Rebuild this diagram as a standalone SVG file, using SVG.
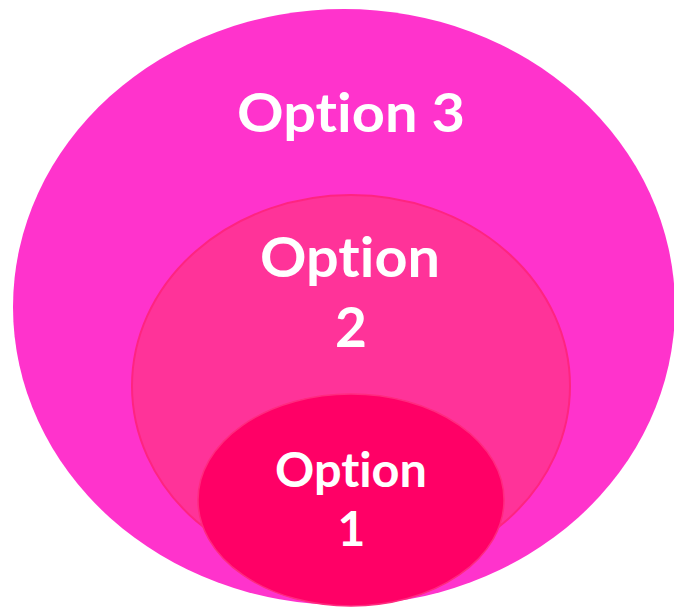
<svg xmlns="http://www.w3.org/2000/svg" width="674" height="607" viewBox="0 0 674 607">
<style>
.lbl{font-family:Lato,"Open Sans","Liberation Sans",sans-serif;font-weight:bold;fill:#FFFFFF;text-anchor:middle;font-variant-ligatures:none;font-feature-settings:"liga" 0,"clig" 0}
</style>
<rect width="674" height="607" fill="#FFFFFF"/>
<g id="option3">
<ellipse cx="344" cy="307" rx="331" ry="298" fill="#FF33CC"/>
<text class="lbl" x="351" y="132" font-size="54" textLength="228" lengthAdjust="spacingAndGlyphs">Option 3</text>
</g>
<g id="option2">
<ellipse cx="351" cy="386" rx="219" ry="191" fill="#FF3399" stroke="#FF2580" stroke-width="2"/>
<text class="lbl" x="350" y="277" font-size="55" textLength="180" lengthAdjust="spacingAndGlyphs">Option</text>
<text class="lbl" x="351" y="347" font-size="55">2</text>
</g>
<g id="option1">
<ellipse cx="351" cy="500" rx="153" ry="106" fill="#FF0066" stroke="#FF2A7F" stroke-width="1.5"/>
<text class="lbl" x="351" y="487" font-size="47" textLength="152" lengthAdjust="spacingAndGlyphs">Option</text>
<text class="lbl" x="351.5" y="546" font-size="48">1</text>
</g>
<g id="connectors"/>
</svg>
